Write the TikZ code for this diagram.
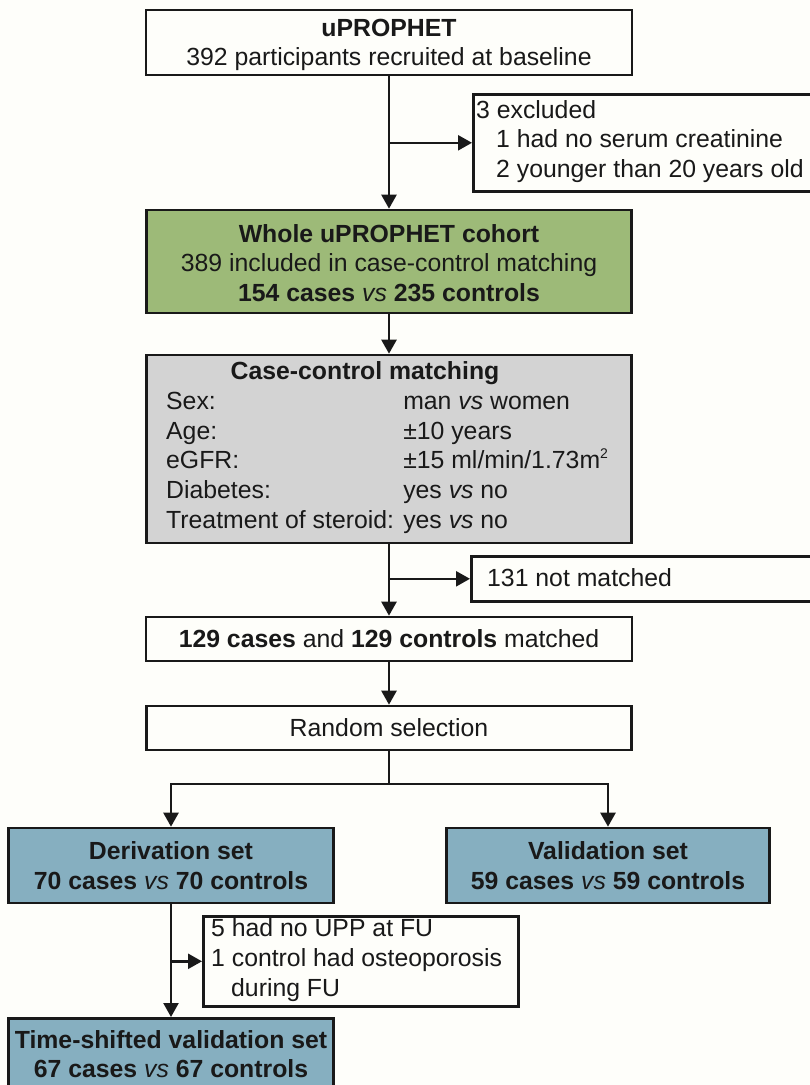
\documentclass[tikz,border=0pt]{standalone}
\usepackage{fontspec}
\setmainfont{Liberation Sans}
\usetikzlibrary{arrows.meta}
\definecolor{bgc}{RGB}{254,254,250}
\definecolor{greenc}{RGB}{157,186,120}
\definecolor{grayc}{RGB}{211,211,211}
\definecolor{bluec}{RGB}{134,175,192}
\definecolor{linec}{RGB}{25,25,25}
\newcommand\vsit{{\mdseries\itshape vs}}
\newcommand\smallsup[1]{\raisebox{0.42em}{\fontsize{14}{14}\selectfont #1}}
\begin{document}
\begin{tikzpicture}[x=1pt,y=-1pt,
  every node/.style={font=\fontsize{24.8}{29.6}\selectfont, text=linec},
  box/.style={draw=linec, line width=2.6pt, inner sep=0pt, align=center},
  txt/.style={inner sep=0pt, align=left, anchor=west},
  ctxt/.style={inner sep=0pt, align=center},
  arr/.style={draw=linec, line width=2.4pt, -{Triangle[length=14pt,width=15pt]}},
  ln/.style={draw=linec, line width=2.4pt}]
\fill[bgc] (0,0) rectangle (810,1085);
\useasboundingbox (0,0) rectangle (810,1085);
\clip (0,0) rectangle (810,1085);

% boxes
\node[box, minimum width=486pt, minimum height=65pt] (top) at (389,42.5) {};
\node[ctxt] (toptxt) at (389,45)
  {\textbf{uPROPHET}\\392 participants recruited at baseline};

\node[box, minimum width=345pt, minimum height=97pt, anchor=north west] (excl) at (472,93) {};
\node[txt] (excltxt) at (476,141.5)
  {3 excluded\\\hspace*{20pt}1 had no serum creatinine\\\hspace*{20pt}2 younger than 20 years old};

\node[box, fill=greenc, minimum width=485pt, minimum height=103pt] (green) at (389,261.5) {};
\node[ctxt] (greentxt) at (389,263)
  {\textbf{Whole uPROPHET cohort}\\389 included in case-control matching\\\textbf{154 cases \vsit{} 235 controls}};

\node[box, fill=grayc, minimum width=485pt, minimum height=188pt] (match) at (389,449) {};
\node[inner sep=0pt] (mtitle) at (365,373) {\textbf{Case-control matching}};
\node[txt] (mrows) at (166,463)
  {\begin{tabular}{@{}l@{ }l@{}}
   Sex: & man \textit{vs} women\\
   Age: & \textpm10 years\\
   eGFR: & \textpm15 ml/min/1.73m\smallsup{2}\\
   Diabetes: & yes \textit{vs} no\\
   Treatment of steroid: & yes \textit{vs} no
   \end{tabular}};

\node[box, minimum width=345pt, minimum height=45pt, anchor=north west] (nm) at (470,555) {};
\node[txt] (nmtxt) at (487,577.5) {131 not matched};

\node[box, minimum width=486pt, minimum height=44pt] (m129) at (389,639)
  {\textbf{129 cases} and \textbf{129 controls} matched};

\node[box, minimum width=485pt, minimum height=44pt] (rand) at (389,728) {Random selection};

\node[box, fill=bluec, minimum width=325pt, minimum height=75pt] (deriv) at (171,865.5)
  {\textbf{Derivation set}\\\textbf{70 cases \vsit{} 70 controls}};
\node[box, fill=bluec, minimum width=323pt, minimum height=75pt] (valid) at (608,865.5)
  {\textbf{Validation set}\\\textbf{59 cases \vsit{} 59 controls}};

\node[box, minimum width=315pt, minimum height=90pt, anchor=north west] (fu) at (202,915) {};
\node[txt] (futxt) at (211,960)
  {5 had no UPP at FU\\1 control had osteoporosis\\\hspace*{20pt}during FU};

\node[box, fill=bluec, minimum width=325pt, minimum height=72pt, anchor=north] (ts) at (171,1017)
  {\textbf{Time-shifted validation set}\\\textbf{67 cases \vsit{} 67 controls}};

% connectors
\draw[arr] (top.south) -- (green.north);
\draw[arr] (top.south |- excl.west) -- (excl.west);
\draw[arr] (green.south) -- (match.north);
\draw[arr] (match.south) -- (m129.north);
\draw[arr] (match.south |- nm.west) -- (nm.west);
\draw[arr] (m129.south) -- (rand.north);
\coordinate (split) at (389,784);
\draw[ln] (rand.south) -- (split);
\draw[arr] (split) -| (deriv.north);
\draw[arr] (split) -| (valid.north);
\draw[arr] (deriv.south) -- (ts.north);
\draw[arr] (deriv.south |- fu.west) -- (fu.west);
\end{tikzpicture}
\end{document}
